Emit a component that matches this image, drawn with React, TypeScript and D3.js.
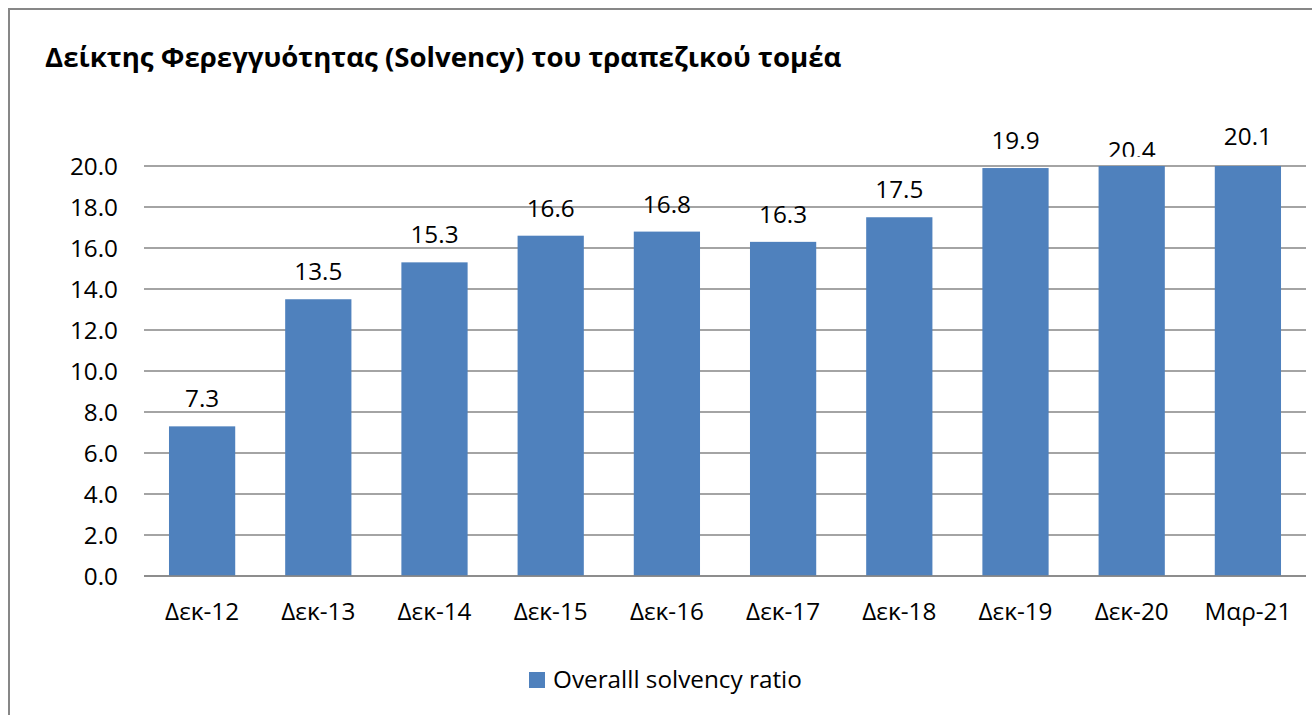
import React from "react";
import * as d3 from "d3";

const categories: string[] = ["Δεκ-12", "Δεκ-13", "Δεκ-14", "Δεκ-15", "Δεκ-16", "Δεκ-17", "Δεκ-18", "Δεκ-19", "Δεκ-20", "Μαρ-21"];
const solvencyValues: number[] = [7.3, 13.5, 15.3, 16.6, 16.8, 16.3, 17.5, 19.9, 20.4, 20.1];
const yTicks: number[] = [0, 2, 4, 6, 8, 10, 12, 14, 16, 18, 20];
const seriesName = "Overalll solvency ratio";
const title = "Δείκτης Φερεγγυότητας (Solvency) του τραπεζικού τομέα";

const W = 1312;
const H = 715;
const FONT = "'Open Sans', 'Noto Sans', sans-serif";
const BAR = "#4F81BD";
const GRID = "#868686";
const FS = 24.3;

export default function App() {
  const plot = { left: 144, right: 1306, top: 166, bottom: 576 };
  const yMax = 20;
  const y = d3.scaleLinear().domain([0, yMax]).range([plot.bottom, plot.top]);
  const x = d3
    .scaleBand<string>()
    .domain(categories)
    .range([plot.left, plot.right])
    .paddingInner(0.43)
    .paddingOuter(0.215);

  return (
    <svg
      width={W}
      height={H}
      style={{ position: "absolute", left: 0, top: 0, background: "#fff" }}
      fontFamily={FONT}
    >
      <defs>
        <clipPath id="plotClip">
          <rect x={plot.left} y={plot.top} width={plot.right - plot.left} height={plot.bottom - plot.top} />
        </clipPath>
      </defs>
      <rect x={0} y={0} width={W} height={H} fill="#fff" />
      <rect x={9} y={9} width={W + 20} height={H + 20} fill="none" stroke="#878787" strokeWidth={2} />

      <text x={45} y={67} fontSize={27.6} fontWeight={700} fill="#000">
        {title}
      </text>

      {yTicks.map((t) => (
        <g key={t}>
          <line x1={plot.left} x2={plot.right} y1={y(t)} y2={y(t)} stroke={GRID} strokeWidth={1.3} />
          <text x={118} y={y(t)} dy="0.36em" textAnchor="end" fontSize={FS} fill="#000">
            {d3.format(".1f")(t)}
          </text>
        </g>
      ))}

      <g clipPath="url(#plotClip)">
        {solvencyValues.map((v, i) => (
          <rect
            key={categories[i]}
            x={x(categories[i])!}
            width={x.bandwidth()}
            y={y(v)}
            height={y(0) - y(v)}
            fill={BAR}
          />
        ))}
      </g>
      <line x1={plot.left} x2={plot.right} y1={y(0)} y2={y(0)} stroke={GRID} strokeWidth={1.5} />

      {solvencyValues.map((v, i) => {
        const cx = x(categories[i])! + x.bandwidth() / 2;
        const over = v > yMax + 0.2;
        if (over) {
          const id = `lblClip${i}`;
          return (
            <g key={`l${i}`}>
              <clipPath id={id}>
                <rect x={cx - 60} y={0} width={120} height={y(v) - 1} />
              </clipPath>
              <text x={cx} y={y(v) + 1} textAnchor="middle" fontSize={FS} fill="#000" clipPath={`url(#${id})`}>
                {d3.format(".1f")(v)}
              </text>
            </g>
          );
        }
        return (
          <text key={`l${i}`} x={cx} y={y(v) - 19} textAnchor="middle" fontSize={FS} fill="#000">
            {d3.format(".1f")(v)}
          </text>
        );
      })}

      {categories.map((c) => (
        <text key={c} x={x(c)! + x.bandwidth() / 2} y={620} textAnchor="middle" fontSize={FS} fill="#000">
          {c}
        </text>
      ))}

      <g>
        <rect x={529} y={672} width={16} height={16} fill={BAR} />
        <text x={553} y={688} fontSize={FS} fill="#000">
          {seriesName}
        </text>
      </g>
    </svg>
  );
}
